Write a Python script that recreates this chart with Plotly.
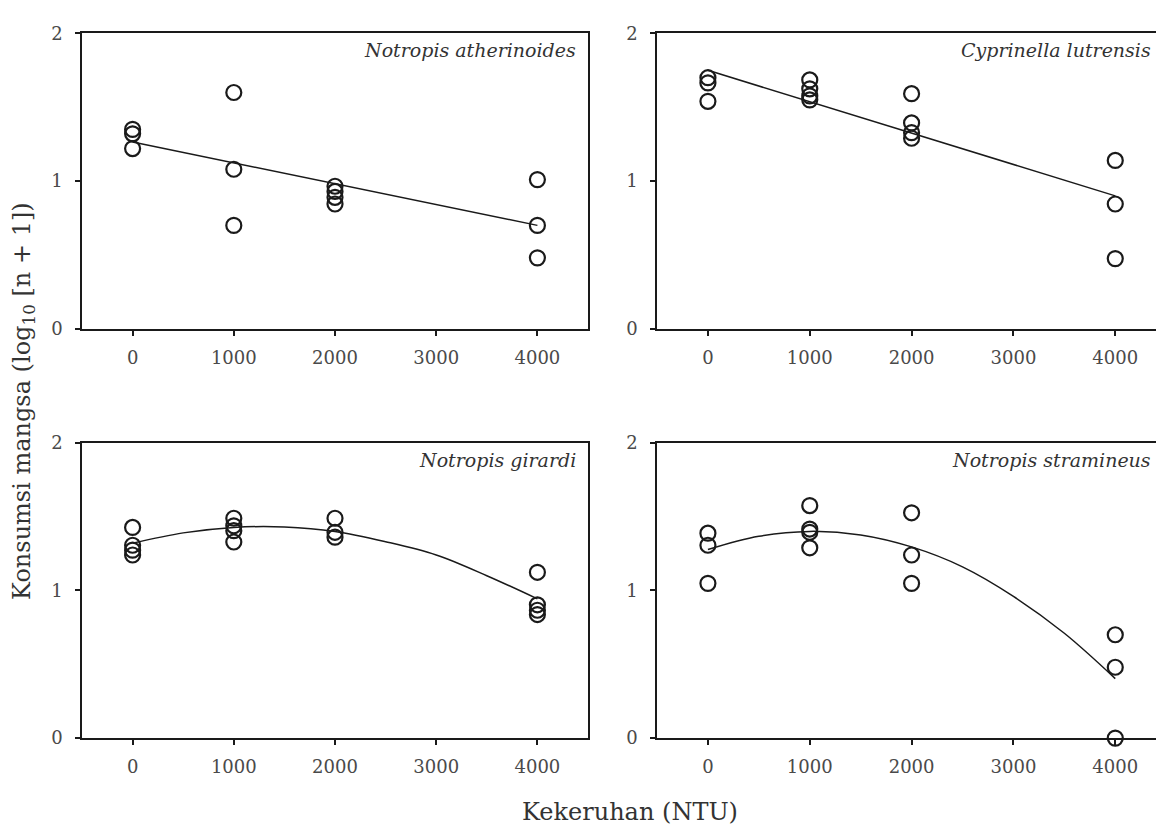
import plotly.graph_objects as go

# ---------------- data ----------------
species = ["Notropis atherinoides", "Cyprinella lutrensis",
           "Notropis girardi", "Notropis stramineus"]

ather_x = [0, 0, 0, 1000, 1000, 1000, 2000, 2000, 2000, 2000, 4000, 4000, 4000]
ather_y = [1.35, 1.32, 1.22, 1.60, 1.08, 0.70, 0.965, 0.93, 0.89, 0.845, 1.01, 0.70, 0.48]

lutr_x = [0, 0, 0, 1000, 1000, 1000, 1000, 2000, 2000, 2000, 2000, 4000, 4000, 4000]
lutr_y = [1.70, 1.665, 1.54, 1.685, 1.625, 1.577, 1.55, 1.592, 1.394, 1.328, 1.29, 1.14, 0.845, 0.475]

gir_x = [0, 0, 0, 0, 1000, 1000, 1000, 1000, 2000, 2000, 2000, 4000, 4000, 4000, 4000]
gir_y = [1.427, 1.306, 1.273, 1.24, 1.489, 1.438, 1.405, 1.328, 1.489, 1.394, 1.361, 1.123, 0.903, 0.866, 0.837]

stra_x = [0, 0, 0, 1000, 1000, 1000, 1000, 2000, 2000, 2000, 4000, 4000, 4000]
stra_y = [1.388, 1.306, 1.048, 1.575, 1.416, 1.394, 1.289, 1.526, 1.24, 1.048, 0.70, 0.48, 0.0]

# fitted lines / curves
lin_fit_x = [0, 4000]
ather_fit = [1.265, 0.70]
lutr_fit = [1.75, 0.90]

curve_x = [0, 500, 1000, 1500, 2000, 2500, 3000, 3500, 4000]
gir_fit = [1.32, 1.39, 1.427, 1.43, 1.40, 1.33, 1.24, 1.10, 0.943]
stra_fit = [1.277, 1.367, 1.40, 1.376, 1.295, 1.16, 0.96, 0.71, 0.403]

x_ticks = [0, 1000, 2000, 3000, 4000]
y_ticks = [0, 1, 2]

x_title = "Kekeruhan (NTU)"
y_title = "Konsumsi mangsa (log<sub>10</sub> [n + 1])"

# ---------------- figure ----------------
W, H = 1156, 830
FONT = "DejaVu Serif"
INK = "#1a1a1a"

fig = go.Figure()

panels = [
    (ather_x, ather_y, lin_fit_x, ather_fit, "linear"),
    (lutr_x, lutr_y, lin_fit_x, lutr_fit, "linear"),
    (gir_x, gir_y, curve_x, gir_fit, "spline"),
    (stra_x, stra_y, curve_x, stra_fit, "spline"),
]

for i, (px, py, fx, fy, shape) in enumerate(panels):
    suffix = "" if i == 0 else str(i + 1)
    fig.add_trace(go.Scatter(
        x=fx, y=fy, mode="lines", line=dict(color=INK, width=1.5, shape=shape),
        xaxis="x" + suffix, yaxis="y" + suffix, showlegend=False, hoverinfo="skip"))
    fig.add_trace(go.Scatter(
        x=px, y=py, mode="markers",
        marker=dict(symbol="circle-open", size=15, color=INK, line=dict(width=2.2, color=INK)),
        xaxis="x" + suffix, yaxis="y" + suffix, showlegend=False, cliponaxis=False))

# panel geometry in pixels: (left, right, top, bottom, x-range end, right border?)
geo = [
    (82, 588, 23, 326, 4500, True),
    (657, 1156, 23, 326, 4400, False),
    (82, 588, 443, 746, 4500, True),
    (657, 1156, 443, 746, 4400, False),
]

layout = dict(
    width=W, height=H,
    margin=dict(l=0, r=0, t=0, b=0),
    paper_bgcolor="white", plot_bgcolor="white",
    font=dict(family=FONT, color="#333"),
    showlegend=False,
)

annotations = []
for i, (l, r, t, b, xend, mir) in enumerate(geo):
    suffix = "" if i == 0 else str(i + 1)
    layout["xaxis" + suffix] = dict(
        domain=[l / W, r / W], anchor="y" + suffix, range=[-500, xend],
        tickvals=x_ticks, ticktext=[str(v) for v in x_ticks],
        ticks="outside", ticklen=5, tickwidth=1.5, tickcolor=INK,
        showline=True, linecolor=INK, linewidth=1.5, mirror=True,
        showgrid=False, zeroline=False, ticklabelstandoff=7,
        tickfont=dict(family=FONT, size=18, color="#4a4a4a"))
    layout["yaxis" + suffix] = dict(
        domain=[(H - b) / H, (H - t) / H], anchor="x" + suffix, range=[0, 2],
        tickvals=y_ticks, ticktext=[str(v) for v in y_ticks],
        ticks="outside", ticklen=5, tickwidth=1.5, tickcolor=INK,
        showline=True, linecolor=INK, linewidth=1.5, mirror=mir,
        showgrid=False, zeroline=False, ticklabelstandoff=9,
        tickfont=dict(family=FONT, size=18, color="#4a4a4a"))
    annotations.append(dict(
        text=species[i], xref=("x" + suffix) + " domain", yref=("y" + suffix) + " domain",
        x=1, y=1, xanchor="right", yanchor="top", xshift=-10 if mir else -3, yshift=-4,
        showarrow=False,
        font=dict(family=FONT, size=19, color="#333", style="italic")))

annotations.append(dict(
    text=x_title, xref="paper", yref="paper", x=630 / W, y=(H - 822) / H,
    xanchor="center", yanchor="middle", showarrow=False,
    font=dict(family=FONT, size=24, color="#333")))
annotations.append(dict(
    text=y_title, xref="paper", yref="paper", x=24 / W, y=(H - 400) / H,
    xanchor="center", yanchor="middle", showarrow=False, textangle=-90,
    font=dict(family=FONT, size=24, color="#333")))

layout["annotations"] = annotations
fig.update_layout(**layout)

fig.write_html("out.html")
